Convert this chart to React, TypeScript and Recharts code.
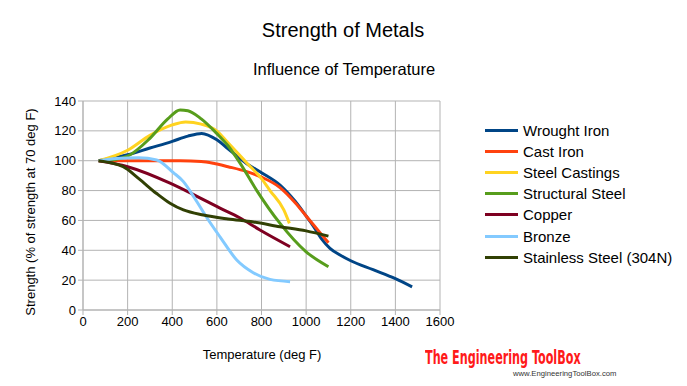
import React from "react";
import { LineChart, Line, XAxis, YAxis, CartesianGrid } from "recharts";

const xTicks = [0, 200, 400, 600, 800, 1000, 1200, 1400, 1600];
const yTicks = [0, 20, 40, 60, 80, 100, 120, 140];

const wroughtIron = [
  { x: 70, y: 100 }, { x: 200, y: 104 }, { x: 300, y: 108.5 }, { x: 400, y: 113 },
  { x: 470, y: 116.5 }, { x: 532, y: 118.3 }, { x: 600, y: 114 }, { x: 650, y: 108 },
  { x: 734, y: 98 }, { x: 800, y: 92 }, { x: 883, y: 83.7 }, { x: 950, y: 73 },
  { x: 1000, y: 63 }, { x: 1033, y: 56 }, { x: 1070, y: 47.5 }, { x: 1107, y: 41.3 },
  { x: 1150, y: 37 }, { x: 1200, y: 33 }, { x: 1300, y: 27 }, { x: 1400, y: 21 },
  { x: 1475, y: 15.5 },
];
const castIron = [
  { x: 70, y: 100 }, { x: 200, y: 100 }, { x: 300, y: 100 }, { x: 435, y: 100 },
  { x: 530, y: 99.5 }, { x: 584, y: 98.3 }, { x: 650, y: 96 }, { x: 734, y: 92.7 },
  { x: 800, y: 89 }, { x: 883, y: 82 }, { x: 950, y: 72 }, { x: 1000, y: 63 },
  { x: 1050, y: 54 }, { x: 1100, y: 45 },
];
const steelCastings = [
  { x: 70, y: 100 }, { x: 200, y: 107 }, { x: 300, y: 117 }, { x: 400, y: 124 },
  { x: 460, y: 126 }, { x: 530, y: 124.5 }, { x: 599, y: 120 }, { x: 650, y: 112 },
  { x: 734, y: 98.5 }, { x: 800, y: 88 }, { x: 838, y: 80 }, { x: 900, y: 67 },
  { x: 925, y: 58 },
];
const structuralSteel = [
  { x: 70, y: 100 }, { x: 150, y: 101 }, { x: 200, y: 103 }, { x: 300, y: 115 },
  { x: 380, y: 128 }, { x: 435, y: 134 }, { x: 470, y: 133.5 }, { x: 530, y: 128 },
  { x: 599, y: 118.3 }, { x: 650, y: 110 }, { x: 704, y: 98.4 }, { x: 779, y: 80 },
  { x: 883, y: 58 }, { x: 1000, y: 39 }, { x: 1100, y: 29 },
];
const copper = [
  { x: 70, y: 100 }, { x: 200, y: 96 }, { x: 390, y: 85 }, { x: 500, y: 77 },
  { x: 614, y: 68.3 }, { x: 700, y: 62 }, { x: 793, y: 53.6 }, { x: 928, y: 42.4 },
];
const bronze = [
  { x: 70, y: 100 }, { x: 150, y: 101.5 }, { x: 250, y: 102 }, { x: 330, y: 100.5 },
  { x: 405, y: 92 }, { x: 450, y: 86 }, { x: 500, y: 75 }, { x: 550, y: 63 },
  { x: 614, y: 49 }, { x: 689, y: 33.5 }, { x: 763, y: 25 }, { x: 838, y: 20.5 },
  { x: 928, y: 19 },
];
const stainless = [
  { x: 70, y: 100 }, { x: 180, y: 96 }, { x: 250, y: 88 }, { x: 330, y: 78 },
  { x: 390, y: 71.5 }, { x: 450, y: 67 }, { x: 539, y: 63.6 }, { x: 650, y: 61 },
  { x: 763, y: 59 }, { x: 883, y: 55.8 }, { x: 1000, y: 53 }, { x: 1100, y: 49.5 },
];

const seriesNames = [
  "Wrought Iron", "Cast Iron", "Steel Castings", "Structural Steel",
  "Copper", "Bronze", "Stainless Steel (304N)",
];
const seriesColors = ["#004586", "#ff420e", "#ffd320", "#579d1c", "#7e0021", "#83caff", "#314004"];
const seriesData = [wroughtIron, castIron, steelCastings, structuralSteel, copper, bronze, stainless];

const font = "'Liberation Sans', Arial, sans-serif";

export default function App() {
  return (
    <div style={{ position: "absolute", left: 0, top: 0, width: 687, height: 386, background: "#fff", fontFamily: font }}>
      <LineChart width={687} height={386} margin={{ top: 101, right: 247, bottom: 46, left: 43 }}>
        <CartesianGrid stroke="#b3b3b3" strokeWidth={1} />
        <XAxis
          type="number"
          dataKey="x"
          domain={[0, 1600]}
          ticks={xTicks}
          height={30}
          stroke="#b3b3b3"
          tickSize={5}
          tick={{ fill: "#000", fontSize: 13, fontFamily: font }}
          allowDuplicatedCategory={false}
        />
        <YAxis
          type="number"
          dataKey="y"
          domain={[0, 140]}
          ticks={yTicks}
          width={40}
          stroke="#b3b3b3"
          tickSize={5}
          tick={{ fill: "#000", fontSize: 13, fontFamily: font }}
        />
        {seriesData.map((d, i) => (
          <Line
            key={seriesNames[i]}
            data={d}
            dataKey="y"
            name={seriesNames[i]}
            type="monotone"
            stroke={seriesColors[i]}
            strokeWidth={3}
            dot={false}
            isAnimationActive={false}
          />
        ))}
      </LineChart>
      <div style={{ position: "absolute", left: 343, top: 19, transform: "translateX(-50%)", fontSize: 20, whiteSpace: "nowrap" }}>
        Strength of Metals
      </div>
      <div style={{ position: "absolute", left: 344, top: 60, transform: "translateX(-50%)", fontSize: 16.5, whiteSpace: "nowrap" }}>
        Influence of Temperature
      </div>
      <div style={{ position: "absolute", left: 262, top: 347, transform: "translateX(-50%)", fontSize: 13, whiteSpace: "nowrap" }}>
        Temperature (deg F)
      </div>
      <div style={{ position: "absolute", left: 30, top: 212, transform: "translate(-50%, -50%) rotate(-90deg)", fontSize: 13, whiteSpace: "nowrap" }}>
        Strength (% of strength at 70 deg F)
      </div>
      {seriesNames.map((n, i) => (
        <div key={n} style={{ position: "absolute", left: 485, top: 120 + i * 21.2, height: 20, display: "flex", alignItems: "center", fontSize: 15, whiteSpace: "nowrap" }}>
          <div style={{ width: 33, height: 3, background: seriesColors[i], marginRight: 5 }} />
          <span>{n}</span>
        </div>
      ))}
      <div style={{ position: "absolute", left: 425, top: 346, fontFamily: "'DejaVu Sans Condensed', 'DejaVu Sans', sans-serif", fontWeight: "bold", fontSize: 19, color: "#ff1a1a", whiteSpace: "nowrap", transform: "scaleX(0.655)", transformOrigin: "0 0" }}>
        The Engineering ToolBox
      </div>
      <div style={{ position: "absolute", left: 513, top: 369, fontSize: 7.7, color: "#333", whiteSpace: "nowrap" }}>
        www.EngineeringToolBox.com
      </div>
    </div>
  );
}
